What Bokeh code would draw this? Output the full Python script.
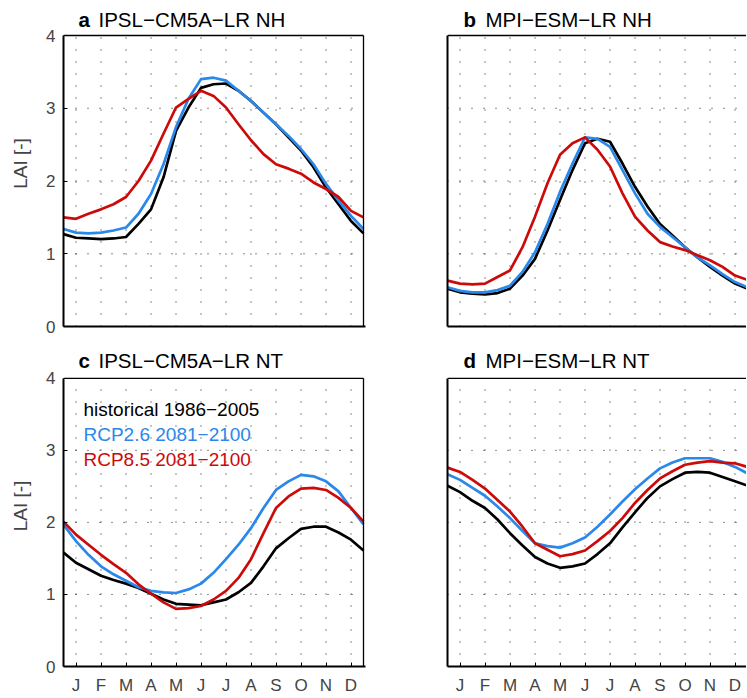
from bokeh.plotting import figure
from bokeh.models import Range1d, LinearAxis, FixedTicker, Label
from bokeh.layouts import column, row
from bokeh.embed import file_html
from bokeh.resources import INLINE

# ---------------- data ----------------
# sample positions in months (0.5 = start of January, 12.5 = end of December)
months = [0.5, 1.0, 1.5, 2.0, 2.5, 3.0, 3.5, 4.0, 4.5, 5.0, 5.5, 6.0, 6.5,
          7.0, 7.5, 8.0, 8.5, 9.0, 9.5, 10.0, 10.5, 11.0, 11.5, 12.0, 12.5]
month_ticks = [1, 2, 3, 4, 5, 6, 7, 8, 9, 10, 11, 12]
month_labels = ["J", "F", "M", "A", "M", "J", "J", "A", "S", "O", "N", "D"]
lai_ticks = [0, 1, 2, 3, 4]
lai_grid = [1, 2, 3]

series_names = ["historical 1986\u22122005", "RCP2.6 2081\u22122100", "RCP8.5 2081\u22122100"]

# a  IPSL-CM5A-LR NH
a_hist = [1.27, 1.22, 1.21, 1.20, 1.21, 1.23, 1.41, 1.61, 2.05, 2.69, 3.01, 3.28, 3.33,
          3.34, 3.24, 3.10, 2.94, 2.78, 2.60, 2.42, 2.19, 1.91, 1.68, 1.45, 1.28]
a_rcp26 = [1.34, 1.29, 1.28, 1.29, 1.32, 1.36, 1.55, 1.82, 2.23, 2.74, 3.13, 3.40, 3.42,
           3.38, 3.24, 3.10, 2.94, 2.78, 2.62, 2.44, 2.23, 1.96, 1.73, 1.52, 1.34]
a_rcp85 = [1.50, 1.48, 1.55, 1.61, 1.68, 1.78, 2.00, 2.28, 2.65, 3.01, 3.13, 3.24, 3.17,
           3.01, 2.78, 2.56, 2.37, 2.23, 2.17, 2.10, 1.98, 1.89, 1.78, 1.59, 1.50]

# b  MPI-ESM-LR NH
b_hist = [0.52, 0.47, 0.45, 0.44, 0.46, 0.52, 0.70, 0.93, 1.32, 1.74, 2.15, 2.52, 2.58,
          2.54, 2.24, 1.92, 1.65, 1.41, 1.25, 1.09, 0.95, 0.82, 0.70, 0.59, 0.52]
b_rcp26 = [0.54, 0.49, 0.47, 0.47, 0.50, 0.56, 0.75, 1.02, 1.41, 1.85, 2.24, 2.60, 2.58,
           2.47, 2.15, 1.83, 1.55, 1.37, 1.23, 1.09, 0.95, 0.84, 0.72, 0.61, 0.54]
b_rcp85 = [0.63, 0.59, 0.58, 0.59, 0.68, 0.77, 1.09, 1.51, 1.97, 2.36, 2.52, 2.60, 2.43,
           2.20, 1.83, 1.51, 1.32, 1.16, 1.10, 1.05, 0.98, 0.91, 0.82, 0.70, 0.64]

# c  IPSL-CM5A-LR NT
c_hist = [1.58, 1.44, 1.35, 1.26, 1.20, 1.15, 1.09, 1.01, 0.93, 0.87, 0.86, 0.85, 0.89,
          0.93, 1.03, 1.16, 1.39, 1.64, 1.78, 1.91, 1.94, 1.94, 1.86, 1.76, 1.61]
c_rcp26 = [1.97, 1.74, 1.55, 1.39, 1.28, 1.19, 1.10, 1.05, 1.03, 1.02, 1.07, 1.15, 1.30,
           1.49, 1.69, 1.92, 2.20, 2.45, 2.57, 2.66, 2.64, 2.57, 2.43, 2.20, 1.97]
c_rcp85 = [2.01, 1.83, 1.69, 1.55, 1.42, 1.30, 1.14, 1.01, 0.89, 0.80, 0.81, 0.84, 0.93,
           1.05, 1.23, 1.49, 1.85, 2.20, 2.36, 2.47, 2.48, 2.45, 2.34, 2.20, 2.01]

# d  MPI-ESM-LR NT
d_hist = [2.51, 2.42, 2.30, 2.20, 2.04, 1.85, 1.68, 1.52, 1.43, 1.37, 1.39, 1.43, 1.56,
          1.71, 1.93, 2.14, 2.34, 2.50, 2.60, 2.69, 2.70, 2.69, 2.63, 2.57, 2.51]
d_rcp26 = [2.67, 2.59, 2.48, 2.37, 2.22, 2.06, 1.88, 1.71, 1.67, 1.65, 1.71, 1.79, 1.94,
           2.11, 2.29, 2.46, 2.61, 2.75, 2.83, 2.89, 2.89, 2.89, 2.84, 2.77, 2.68]
d_rcp85 = [2.76, 2.70, 2.59, 2.47, 2.31, 2.15, 1.94, 1.71, 1.62, 1.53, 1.56, 1.61, 1.74,
           1.88, 2.06, 2.27, 2.45, 2.61, 2.71, 2.80, 2.83, 2.85, 2.83, 2.82, 2.77]

# ---------------- styling ----------------
FONT = "Liberation Sans"
BLACK = "#000000"
BLUE = "#2a88ea"
RED = "#cc0a0a"
COLORS = [BLACK, BLUE, RED]
PX_PER_MONTH = 25.0
X0, X1 = 0.5, 12.5      # month axis limits
Y0, Y1 = 0.0, 4.0       # LAI axis limits


def make_panel(letter, name, series, width, height, border_l, border_r,
               border_b, px_per_lai, left_labels, bottom_labels, cut_right,
               title_dx, title_dy, legend=False):
    frame_w = width - border_l - border_r
    frame_h = height - border_b          # frame includes the title strip
    x_end = X0 + frame_w / PX_PER_MONTH
    y_end = frame_h / px_per_lai
    p = figure(width=width, height=height,
               x_range=Range1d(X0, x_end), y_range=Range1d(Y0, y_end),
               x_axis_location=None, y_axis_location=None,
               toolbar_location=None, output_backend="svg",
               min_border_left=border_l, min_border_right=border_r,
               min_border_top=0, min_border_bottom=border_b,
               outline_line_color=None, background_fill_color="white",
               border_fill_color="white")
    p.xgrid.visible = False
    p.ygrid.visible = False

    x_right = min(X1, x_end)

    # dotted grid (drawn only inside the axes box)
    p.segment(x0=month_ticks, y0=[Y0] * len(month_ticks),
              x1=month_ticks, y1=[Y1] * len(month_ticks),
              line_color="#1a1a1a", line_width=1, line_dash="1 11")
    p.segment(x0=[X0] * len(lai_grid), y0=lai_grid,
              x1=[x_right] * len(lai_grid), y1=lai_grid,
              line_color="#1a1a1a", line_width=1, line_dash="1 11")

    # left axis
    if left_labels:
        ly = LinearAxis(ticker=FixedTicker(ticks=lai_ticks), axis_label="LAI [-]")
        ly.major_label_text_font = FONT
        ly.major_label_text_font_size = "17px"
        ly.major_label_standoff = 8
        ly.axis_label_text_font = FONT
        ly.axis_label_text_font_size = "19px"
        ly.axis_label_text_font_style = "normal"
        ly.axis_label_standoff = 12
        ly.major_tick_in = 4
        ly.major_tick_out = 0
    else:
        ly = LinearAxis(ticker=FixedTicker(ticks=[]))
    ly.bounds = (Y0, Y1)
    ly.axis_line_width = 2
    ly.axis_line_color = BLACK
    ly.minor_tick_line_color = None
    p.add_layout(ly, "left")

    # bottom axis
    if bottom_labels:
        bx = LinearAxis(ticker=FixedTicker(ticks=month_ticks))
        bx.major_label_overrides = {t: lab for t, lab in zip(month_ticks, month_labels)}
        bx.major_label_text_font = FONT
        bx.major_label_text_font_size = "17px"
        bx.major_label_standoff = 9
        bx.major_tick_in = 4
        bx.major_tick_out = 0
    else:
        bx = LinearAxis(ticker=FixedTicker(ticks=[]))
    bx.axis_line_width = 2
    bx.axis_line_color = BLACK
    bx.minor_tick_line_color = None
    p.add_layout(bx, "below")

    # data
    for vals, col in zip(series, COLORS):
        p.line(months, vals, line_color=col, line_width=2.7, line_join="round")

    # top (and right) frame lines of the axes box
    p.line([X0, x_end if cut_right else X1], [Y1, Y1], line_color=BLACK, line_width=1.3)
    if not cut_right:
        p.line([X1, X1], [Y0, Y1], line_color=BLACK, line_width=1.3)

    # panel title: bold letter + normal name
    top_px = Y1 * px_per_lai
    p.add_layout(Label(x=title_dx[0], y=top_px + title_dy,
                       x_units="screen", y_units="screen", text=letter,
                       text_font=FONT, text_font_size="20.5px",
                       text_font_style="bold", text_color=BLACK,
                       text_baseline="alphabetic"))
    p.add_layout(Label(x=title_dx[1], y=top_px + title_dy,
                       x_units="screen", y_units="screen", text=name,
                       text_font=FONT, text_font_size="20.5px",
                       text_color=BLACK, text_baseline="alphabetic"))

    if legend:
        for i, (nm, col) in enumerate(zip(series_names, COLORS)):
            p.add_layout(Label(x=20, y=top_px - 33.2 - 25.0 * i,
                               x_units="screen", y_units="screen", text=nm,
                               text_font=FONT, text_font_size="19px",
                               text_color=col, text_baseline="alphabetic"))
    return p


pa = make_panel("a", "IPSL\u2212CM5A\u2212LR NH", [a_hist, a_rcp26, a_rcp85],
                393, 345, 63, 28, 19, 72.75, True, False, False, (15, 35), 16.5)
pb = make_panel("b", "MPI\u2212ESM\u2212LR NH", [b_hist, b_rcp26, b_rcp85],
                353, 345, 54, 0, 19, 72.75, False, False, True, (16, 38), 16.5)
pc = make_panel("c", "IPSL\u2212CM5A\u2212LR NT", [c_hist, c_rcp26, c_rcp85],
                393, 352, 63, 28, 29, 72.5, True, True, False, (15, 35), 16, legend=True)
pd = make_panel("d", "MPI\u2212ESM\u2212LR NT", [d_hist, d_rcp26, d_rcp85],
                353, 352, 54, 0, 29, 72.5, False, True, True, (16, 38), 16)

layout = column(row(pa, pb), row(pc, pd))

with open("out.html", "w") as f:
    f.write(file_html(layout, INLINE))
